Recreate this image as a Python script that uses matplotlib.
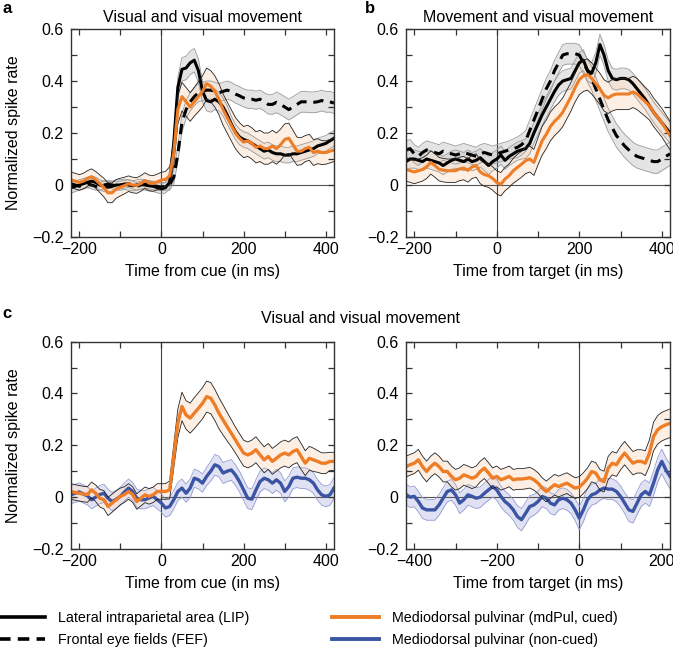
import numpy as np
import matplotlib
matplotlib.use('Agg')
import matplotlib.pyplot as plt
from matplotlib.lines import Line2D
from matplotlib.ticker import MultipleLocator

plt.rcParams['font.family'] = ['Liberation Sans', 'DejaVu Sans']

# time axes (ms)
t_cue = np.arange(-220, 421, 10)
t_tgt = np.arange(-420, 221, 10)

# ---- panel a: visual and visual movement, aligned to cue ----
lip_a = [-0.01, -0.005, 0.0, 0.005, 0.01, 0.015, 0.01, 0.0, -0.005, -0.008, -0.005, 0.0, 0.0, 0.003, 0.0, -0.003,
         0.0, 0.003, 0.0, -0.003, -0.005, -0.01, -0.015,
         -0.01, 0.01, 0.16, 0.375, 0.445, 0.45, 0.47, 0.48, 0.44, 0.36,
         0.325, 0.32, 0.33, 0.32, 0.30, 0.27, 0.235, 0.205, 0.185, 0.175,
         0.17, 0.16, 0.15, 0.14, 0.13, 0.135, 0.125, 0.12, 0.12, 0.115,
         0.115, 0.12, 0.12, 0.125, 0.13, 0.135, 0.14, 0.15, 0.155, 0.16,
         0.17, 0.18]
lip_a_err = [0.022, 0.02, 0.02, 0.02, 0.02, 0.02, 0.02, 0.02, 0.02, 0.02, 0.02, 0.02, 0.02, 0.02, 0.02, 0.02,
             0.02, 0.02, 0.02, 0.02, 0.02, 0.02, 0.02,
             0.02, 0.025, 0.035, 0.04, 0.045, 0.045, 0.045, 0.045, 0.045, 0.04,
             0.04, 0.04, 0.04, 0.035, 0.035, 0.035, 0.03, 0.03, 0.03, 0.03,
             0.03, 0.03, 0.03, 0.03, 0.03, 0.03, 0.03, 0.03, 0.03, 0.03,
             0.03, 0.03, 0.03, 0.03, 0.03, 0.03, 0.03, 0.03, 0.03, 0.03,
             0.03, 0.03]
fef_a = [0.005, 0.0, -0.005, 0.0, 0.005, 0.0, -0.005, -0.005, 0.0, 0.003, 0.0, -0.003, 0.0, 0.003, 0.005, 0.0,
         -0.005, 0.0, 0.003, 0.0, -0.003, -0.005, -0.008,
         -0.005, 0.0, 0.03, 0.12, 0.24, 0.29, 0.32, 0.34, 0.355, 0.36,
         0.365, 0.365, 0.36, 0.355, 0.36, 0.365, 0.36, 0.35, 0.343, 0.335,
         0.33, 0.33, 0.326, 0.33, 0.32, 0.31, 0.31, 0.318, 0.31, 0.30,
         0.29, 0.30, 0.31, 0.32, 0.32, 0.318, 0.318, 0.32, 0.325, 0.32,
         0.32, 0.315]
fef_a_err = [0.015, 0.015, 0.015, 0.015, 0.015, 0.015, 0.015, 0.015, 0.015, 0.015, 0.015, 0.015, 0.015, 0.015,
             0.015, 0.015, 0.015, 0.015, 0.015, 0.015, 0.015, 0.015, 0.015,
             0.015, 0.02, 0.025, 0.03, 0.035, 0.035, 0.035, 0.035, 0.035, 0.035,
             0.035, 0.035, 0.035, 0.035, 0.035, 0.035, 0.035, 0.035, 0.035, 0.035,
             0.035, 0.035, 0.035, 0.035, 0.035, 0.037, 0.038, 0.04, 0.04, 0.04,
             0.04, 0.04, 0.04, 0.04, 0.04, 0.04, 0.04, 0.04, 0.04, 0.04,
             0.04, 0.04]
pul_a = [0.02, 0.015, 0.01, 0.015, 0.025, 0.032, 0.02, 0.005, -0.01, -0.03, -0.03, -0.015, -0.008, -0.002, 0.005,
         0.0, -0.002, 0.006, 0.017, 0.008, 0.006, 0.012, 0.019,
         0.022, 0.035, 0.12, 0.29, 0.34, 0.32, 0.30, 0.32, 0.34, 0.36,
         0.39, 0.38, 0.36, 0.33, 0.29, 0.26, 0.23, 0.20, 0.18, 0.165,
         0.17, 0.16, 0.145, 0.15, 0.14, 0.14, 0.15, 0.14, 0.155, 0.175,
         0.18, 0.155, 0.13, 0.13, 0.14, 0.145, 0.125, 0.13, 0.125, 0.125,
         0.13, 0.135]
pul_a_err = [0.03, 0.03, 0.03, 0.03, 0.03, 0.03, 0.032, 0.034, 0.036, 0.038, 0.038, 0.036, 0.034, 0.032, 0.03,
             0.03, 0.03, 0.03, 0.03, 0.03, 0.03, 0.03, 0.03,
             0.03, 0.035, 0.045, 0.055, 0.055, 0.055, 0.055, 0.055, 0.058, 0.06,
             0.06, 0.06, 0.06, 0.06, 0.06, 0.06, 0.06, 0.06, 0.06, 0.06,
             0.06, 0.06, 0.06, 0.06, 0.06, 0.06, 0.06, 0.06, 0.06, 0.06,
             0.058, 0.056, 0.054, 0.052, 0.05, 0.05, 0.05, 0.048, 0.046, 0.045,
             0.045, 0.045]

# ---- panel b: movement and visual movement, aligned to target ----
lip_b = [0.09, 0.1, 0.1, 0.095, 0.09, 0.1, 0.095, 0.09, 0.085, 0.075, 0.085, 0.095, 0.1, 0.095, 0.09, 0.1,
         0.09, 0.095, 0.105, 0.09, 0.075, 0.09, 0.1,
         0.115, 0.095, 0.11, 0.12, 0.13, 0.135, 0.14, 0.16, 0.2, 0.235,
         0.27, 0.30, 0.33, 0.36, 0.385, 0.40, 0.405, 0.41, 0.44, 0.47,
         0.48, 0.44, 0.43, 0.47, 0.54, 0.5, 0.44, 0.41, 0.405, 0.41,
         0.41, 0.405, 0.39, 0.37, 0.35, 0.33, 0.305, 0.28, 0.26, 0.24,
         0.22, 0.2]
lip_b_err = [0.035, 0.035, 0.035, 0.035, 0.035, 0.035, 0.035, 0.035, 0.035, 0.035, 0.035, 0.035, 0.035, 0.035,
             0.035, 0.035, 0.035, 0.035, 0.035, 0.035, 0.035, 0.035, 0.035,
             0.035, 0.035, 0.035, 0.035, 0.035, 0.035, 0.038, 0.04, 0.04, 0.04,
             0.04, 0.04, 0.04, 0.04, 0.04, 0.04, 0.04, 0.04, 0.04, 0.04,
             0.04, 0.04, 0.04, 0.04, 0.04, 0.04, 0.04, 0.04, 0.04, 0.04,
             0.04, 0.04, 0.04, 0.04, 0.04, 0.04, 0.04, 0.04, 0.04, 0.04,
             0.04, 0.04]
fef_b = [0.135, 0.14, 0.12, 0.11, 0.125, 0.135, 0.13, 0.125, 0.12, 0.13, 0.125, 0.12, 0.115, 0.12, 0.125, 0.12,
         0.115, 0.11, 0.12, 0.125, 0.12, 0.115, 0.12,
         0.125, 0.13, 0.135, 0.14, 0.145, 0.155, 0.17, 0.21, 0.25, 0.29,
         0.33, 0.37, 0.40, 0.44, 0.47, 0.5, 0.505, 0.505, 0.505, 0.50,
         0.47, 0.44, 0.41, 0.37, 0.33, 0.29, 0.25, 0.22, 0.19, 0.17,
         0.15, 0.135, 0.12, 0.11, 0.105, 0.1, 0.095, 0.09, 0.09, 0.1,
         0.11, 0.12]
fef_b_err = [0.035, 0.035, 0.035, 0.035, 0.035, 0.035, 0.035, 0.035, 0.035, 0.035, 0.035, 0.035, 0.035, 0.035,
             0.035, 0.035, 0.035, 0.035, 0.035, 0.035, 0.035, 0.035, 0.035,
             0.035, 0.035, 0.035, 0.037, 0.04, 0.04, 0.04, 0.04, 0.04, 0.04,
             0.04, 0.04, 0.04, 0.04, 0.04, 0.04, 0.04, 0.04, 0.04, 0.04,
             0.042, 0.044, 0.045, 0.045, 0.045, 0.045, 0.045, 0.045, 0.045, 0.045,
             0.045, 0.045, 0.045, 0.045, 0.045, 0.045, 0.045, 0.045, 0.045, 0.045,
             0.045, 0.045]
pul_b = [0.06, 0.055, 0.05, 0.055, 0.06, 0.07, 0.087, 0.075, 0.061, 0.057, 0.055, 0.055, 0.055, 0.062, 0.065,
         0.056, 0.07, 0.075, 0.05, 0.04, 0.036, 0.025, 0.01,
         0.003, 0.023, 0.036, 0.055, 0.068, 0.08, 0.094, 0.1, 0.087, 0.13,
         0.17, 0.195, 0.225, 0.245, 0.26, 0.28, 0.31, 0.34, 0.375, 0.405,
         0.42, 0.425, 0.41, 0.39, 0.37, 0.345, 0.335, 0.345, 0.35, 0.35,
         0.35, 0.35, 0.358, 0.35, 0.335, 0.32, 0.305, 0.28, 0.26, 0.24,
         0.215, 0.19]
pul_b_err = [0.045, 0.045, 0.045, 0.045, 0.045, 0.045, 0.045, 0.045, 0.045, 0.045, 0.045, 0.045, 0.045, 0.045,
             0.045, 0.045, 0.045, 0.045, 0.045, 0.045, 0.045, 0.045, 0.045,
             0.045, 0.045, 0.045, 0.048, 0.05, 0.05, 0.05, 0.05, 0.05, 0.052,
             0.055, 0.055, 0.055, 0.055, 0.055, 0.055, 0.055, 0.055, 0.055, 0.058,
             0.06, 0.06, 0.06, 0.06, 0.06, 0.06, 0.06, 0.06, 0.06, 0.06,
             0.06, 0.06, 0.06, 0.06, 0.058, 0.056, 0.055, 0.055, 0.055, 0.055,
             0.055, 0.055]

# ---- panel c: mdPul cued vs non-cued ----
pul_c = [0.022, 0.018, 0.015, 0.012, 0.01, 0.028, 0.015, -0.004, -0.01, -0.036, -0.023, -0.01, 0.003, 0.01, 0.022,
         0.01, -0.017, -0.004, 0.009, 0.003, 0.009, 0.022, 0.022,
         0.022, 0.028, 0.157, 0.285, 0.35, 0.317, 0.305, 0.324, 0.343, 0.362,
         0.388, 0.382, 0.356, 0.324, 0.298, 0.272, 0.247, 0.221, 0.195, 0.17,
         0.163, 0.17, 0.183, 0.163, 0.144, 0.157, 0.138, 0.15, 0.163, 0.17,
         0.163, 0.176, 0.183, 0.157, 0.131, 0.15, 0.144, 0.138, 0.131, 0.131,
         0.138, 0.138]
pul_c_err = [0.03, 0.03, 0.03, 0.03, 0.03, 0.03, 0.032, 0.034, 0.035, 0.035, 0.035, 0.034, 0.032, 0.03, 0.03,
             0.03, 0.03, 0.03, 0.03, 0.03, 0.03, 0.03, 0.03,
             0.03, 0.035, 0.045, 0.055, 0.055, 0.055, 0.058, 0.06, 0.06, 0.06,
             0.06, 0.06, 0.06, 0.06, 0.058, 0.055, 0.052, 0.05, 0.05, 0.05,
             0.05, 0.05, 0.05, 0.05, 0.05, 0.05, 0.05, 0.05, 0.05, 0.05,
             0.05, 0.05, 0.05, 0.05, 0.048, 0.046, 0.045, 0.042, 0.04, 0.04,
             0.035, 0.035]
np_c = [0.01, 0.015, 0.02, 0.012, 0.005, -0.01, 0.0, 0.01, 0.015, -0.004, -0.017, -0.008, 0.003, 0.02, 0.035,
        0.022, -0.004, -0.01, -0.01, -0.003, 0.003, -0.01, -0.023,
        -0.042, -0.036, -0.01, 0.022, 0.035, 0.015, 0.035, 0.073, 0.067, 0.054,
        0.08, 0.1, 0.125, 0.118, 0.093, 0.1, 0.105, 0.086, 0.06, 0.028,
        -0.004, -0.008, 0.028, 0.06, 0.073, 0.067, 0.054, 0.067, 0.054, 0.022,
        0.041, 0.073, 0.077, 0.073, 0.073, 0.067, 0.054, 0.028, 0.009, 0.003,
        0.009, 0.035]
np_c_err = [0.035, 0.035, 0.035, 0.035, 0.035, 0.035, 0.035, 0.035, 0.035, 0.035, 0.035, 0.035, 0.035, 0.035,
            0.035, 0.035, 0.035, 0.035, 0.035, 0.035, 0.035, 0.035, 0.035,
            0.035, 0.035, 0.035, 0.035, 0.035, 0.035, 0.035, 0.035, 0.035, 0.035,
            0.035, 0.038, 0.04, 0.04, 0.04, 0.04, 0.04, 0.04, 0.04, 0.04,
            0.04, 0.04, 0.04, 0.04, 0.04, 0.04, 0.04, 0.04, 0.04, 0.04,
            0.04, 0.04, 0.04, 0.04, 0.04, 0.04, 0.04, 0.04, 0.04, 0.04,
            0.04, 0.04]

pul_t = [0.118, 0.125, 0.131, 0.144, 0.118, 0.099, 0.118, 0.131, 0.118, 0.099, 0.099, 0.08, 0.067, 0.073, 0.086,
         0.08, 0.073, 0.08, 0.099, 0.112, 0.093, 0.073, 0.08, 0.067, 0.073, 0.08, 0.067, 0.07, 0.07, 0.072,
         0.075, 0.067, 0.054, 0.035, 0.022, 0.035, 0.048, 0.041, 0.048, 0.054, 0.044, 0.035, 0.039,
         0.054, 0.073, 0.099, 0.093, 0.067, 0.06, 0.112, 0.131, 0.125, 0.15,
         0.17, 0.15, 0.131, 0.138, 0.138, 0.131, 0.17, 0.234, 0.26, 0.272,
         0.279, 0.285]
pul_t_err = [0.04, 0.04, 0.04, 0.04, 0.04, 0.04, 0.04, 0.04, 0.04, 0.04, 0.04, 0.04, 0.04, 0.04, 0.04,
             0.04, 0.04, 0.04, 0.04, 0.04, 0.04, 0.04, 0.04, 0.04, 0.04, 0.04, 0.04, 0.04, 0.04, 0.04,
             0.04, 0.04, 0.04, 0.04, 0.04, 0.04, 0.04, 0.04, 0.04, 0.04, 0.04, 0.04, 0.04,
             0.04, 0.04, 0.04, 0.04, 0.04, 0.04, 0.045, 0.045, 0.045, 0.045,
             0.045, 0.045, 0.045, 0.045, 0.045, 0.048, 0.05, 0.055, 0.055, 0.055,
             0.055, 0.055]
np_t = [0.01, 0.0, 0.003, -0.017, -0.042, -0.049, -0.049, -0.049, -0.03, -0.004, 0.022, 0.028, 0.009, -0.023,
        -0.01, 0.009, 0.003, -0.004, 0.0, 0.015, 0.028, 0.041, 0.028, 0.003, -0.017, -0.03, -0.049, -0.075,
        -0.087, -0.062, -0.036, -0.03, -0.017, 0.003, -0.004, -0.023, -0.03, -0.01, -0.004, -0.01, -0.023,
        -0.049, -0.081,
        -0.049, -0.01, 0.009, 0.015, 0.028, 0.035, 0.031, 0.031, 0.022, 0.003,
        -0.023, -0.049, -0.055, -0.023, 0.009, 0.022, 0.009, 0.054, 0.105, 0.138,
        0.105, 0.08]
np_t_err = [0.04, 0.04, 0.04, 0.04, 0.04, 0.04, 0.04, 0.04, 0.04, 0.04, 0.04, 0.04, 0.04, 0.04,
            0.04, 0.04, 0.04, 0.04, 0.04, 0.04, 0.04, 0.04, 0.04, 0.04, 0.04, 0.04, 0.04, 0.042,
            0.043, 0.043, 0.042, 0.04, 0.04, 0.04, 0.04, 0.04, 0.04, 0.04, 0.04, 0.04, 0.04,
            0.042, 0.045,
            0.045, 0.042, 0.04, 0.04, 0.04, 0.04, 0.04, 0.04, 0.04, 0.04,
            0.04, 0.045, 0.045, 0.045, 0.045, 0.045, 0.045, 0.047, 0.047, 0.047,
            0.047, 0.047]

ORANGE = '#EE7D27'
BLUE = '#3B54A4'
FS = 11.5


def draw_band(ax, t, m, err, fill, edge, alpha, ew=0.6):
    m = np.asarray(m)
    err = np.asarray(err)
    ax.fill_between(t, m - err, m + err, color=fill, alpha=alpha, lw=0)
    ax.plot(t, m - err, color=edge, lw=ew)
    ax.plot(t, m + err, color=edge, lw=ew)


def style_axis(ax, xlim, xticks, zero_from_cue):
    ax.set_xlim(xlim)
    ax.set_ylim(-0.2, 0.6)
    ax.set_xticks(xticks)
    ax.set_xticklabels([str(x).replace('-', '\u2212') for x in xticks])
    ax.set_yticks([-0.2, 0, 0.2, 0.4, 0.6])
    ax.set_yticklabels(['\u22120.2', '0', '0.2', '0.4', '0.6'])
    ax.xaxis.set_minor_locator(MultipleLocator(100))
    ax.yaxis.set_minor_locator(MultipleLocator(0.1))
    ax.tick_params(which='both', direction='in', top=True, right=True, length=4, width=0.9,
                   color='#333333', labelsize=FS)
    ax.tick_params(axis='x', pad=3.5)
    ax.tick_params(axis='y', pad=5.5)
    for s in ax.spines.values():
        s.set_color('#333333')
        s.set_linewidth(1.0)
    ax.axvline(0, color='#444444', lw=0.8, zorder=1)
    if zero_from_cue:
        ax.hlines(0, 0, xlim[1], color='#555555', lw=0.8, zorder=1)
    else:
        ax.axhline(0, color='#555555', lw=0.8, zorder=1)


fig = plt.figure(figsize=(6.73, 6.52), dpi=100)
ax_a = fig.add_axes([0.1055, 0.6365, 0.3908, 0.319])
ax_b = fig.add_axes([0.6033, 0.6365, 0.3923, 0.319])
ax_c1 = fig.add_axes([0.1055, 0.158, 0.3908, 0.318])
ax_c2 = fig.add_axes([0.6033, 0.158, 0.3923, 0.318])

for ax, t, lip, lip_e, fef, fef_e, pul, pul_e in [
        (ax_a, t_cue, lip_a, lip_a_err, fef_a, fef_a_err, pul_a, pul_a_err),
        (ax_b, t_cue, lip_b, lip_b_err, fef_b, fef_b_err, pul_b, pul_b_err)]:
    draw_band(ax, t, fef, fef_e, '#CFCFCF', '#9A9A9A', 0.55)
    draw_band(ax, t, lip, lip_e, '#CFCFCF', '#9A9A9A', 0.55)
    ax.plot(t, fef, color='black', lw=2.2, dashes=(3.4, 2.2))
    ax.plot(t, lip, color='black', lw=2.2)
    draw_band(ax, t, pul, pul_e, '#FCE3CF', '#222222', 0.55)
    ax.plot(t, pul, color=ORANGE, lw=2.2)

for ax, t, pul, pul_e, npc, np_e in [
        (ax_c1, t_cue, pul_c, pul_c_err, np_c, np_c_err),
        (ax_c2, t_tgt, pul_t, pul_t_err, np_t, np_t_err)]:
    draw_band(ax, t, npc, np_e, '#D3D7EF', '#959CD2', 0.7)
    ax.plot(t, npc, color=BLUE, lw=2.4)
    draw_band(ax, t, pul, pul_e, '#FCE3CF', '#222222', 0.55)
    ax.plot(t, pul, color=ORANGE, lw=2.4)

style_axis(ax_a, (-220, 420), [-200, 0, 200, 400], True)
style_axis(ax_b, (-220, 420), [-200, 0, 200, 400], False)
style_axis(ax_c1, (-220, 420), [-200, 0, 200, 400], True)
style_axis(ax_c2, (-420, 220), [-400, -200, 0, 200], False)

ax_a.set_title('Visual and visual movement', fontsize=FS, pad=5)
ax_b.set_title('Movement and visual movement', fontsize=FS, pad=5)
ax_a.set_xlabel('Time from cue (in ms)', fontsize=FS, labelpad=5)
ax_b.set_xlabel('Time from target (in ms)', fontsize=FS, labelpad=5)
ax_c1.set_xlabel('Time from cue (in ms)', fontsize=FS, labelpad=5)
ax_c2.set_xlabel('Time from target (in ms)', fontsize=FS, labelpad=5)
for ax in (ax_a, ax_c1):
    ax.set_ylabel('Normalized spike rate', fontsize=FS)
    ax.yaxis.set_label_coords(-0.19, 0.5)

fig.text(0.536, 0.512, 'Visual and visual movement', fontsize=FS, ha='center', va='center')
fig.text(0.003, 1 - 13 / 652, 'a', fontsize=12, weight='bold', va='baseline')
fig.text(365 / 673, 1 - 13 / 652, 'b', fontsize=12, weight='bold', va='baseline')
fig.text(0.003, 1 - 318 / 652, 'c', fontsize=12, weight='bold', va='baseline')

h_lip = Line2D([], [], color='black', lw=2.6)
h_fef = Line2D([], [], color='black', lw=2.6, dashes=(3.2, 2.0))
h_cued = Line2D([], [], color=ORANGE, lw=2.8)
h_non = Line2D([], [], color=BLUE, lw=2.8)
leg_kw = dict(loc='center left', frameon=False, fontsize=10.3, handlelength=3.3, handletextpad=0.9,
              borderpad=0, borderaxespad=0, labelspacing=0.58)
fig.legend([h_lip, h_fef], ['Lateral intraparietal area (LIP)', 'Frontal eye fields (FEF)'],
           bbox_to_anchor=(-0.003, 1 - 629 / 652), **leg_kw)
fig.legend([h_cued, h_non], ['Mediodorsal pulvinar (mdPul, cued)', 'Mediodorsal pulvinar (non-cued)'],
           bbox_to_anchor=(332 / 673, 1 - 629 / 652), **leg_kw)

fig.savefig('out.png', dpi=100)
